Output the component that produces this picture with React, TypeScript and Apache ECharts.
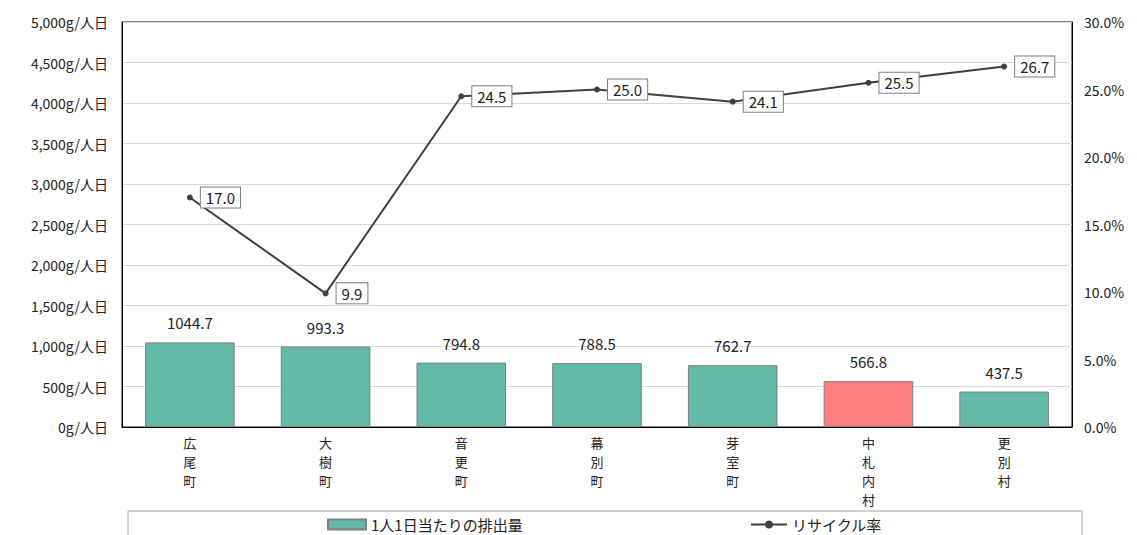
import React, { useEffect, useRef } from "react";
import * as echarts from "echarts";

const categories = ["広尾町", "大樹町", "音更町", "幕別町", "芽室町", "中札内村", "更別村"];
const perCapita = [1044.7, 993.3, 794.8, 788.5, 762.7, 566.8, 437.5];
const recycleRate = [17.0, 9.9, 24.5, 25.0, 24.1, 25.5, 26.7];
const highlightIndex = 5;
const seriesNames = ["1人1日当たりの排出量", "リサイクル率"];

const FONT = "'Noto Sans CJK JP', 'Noto Sans', sans-serif";

export default function App() {
  const ref = useRef<HTMLDivElement>(null);
  useEffect(() => {
    if (!ref.current) return;
    const chart = echarts.init(ref.current, undefined, { renderer: "svg" });
    const legendText = { fontSize: 15, color: "#222", fontFamily: FONT };
    chart.setOption({
      animation: false,
      textStyle: { fontFamily: FONT },
      grid: {
        left: 122,
        right: 65,
        top: 22,
        bottom: 108,
        containLabel: false,
        show: true,
        borderColor: "#000",
        borderWidth: 1,
      },
      graphic: [
        {
          type: "rect",
          shape: { x: 128, y: 511, width: 954, height: 40 },
          style: { fill: "none", stroke: "#a6a6a6", lineWidth: 1 },
          silent: true,
        },
      ],
      legend: [
        {
          top: 512,
          left: 322,
          itemWidth: 38,
          itemHeight: 10,
          itemGap: 5,
          textStyle: legendText,
          data: [{ name: seriesNames[0], icon: "rect" }],
        },
        {
          top: 512,
          left: 745,
          itemWidth: 36,
          itemHeight: 10,
          textStyle: legendText,
          data: [{ name: seriesNames[1] }],
        },
      ],
      xAxis: {
        type: "category",
        data: categories,
        axisLine: { lineStyle: { color: "#000" } },
        axisTick: { show: false },
        axisLabel: {
          interval: 0,
          fontSize: 13,
          lineHeight: 19,
          color: "#222",
          margin: 6,
          formatter: (v: string) => v.split("").join("\n"),
        },
      },
      yAxis: [
        {
          type: "value",
          min: 0,
          max: 5000,
          interval: 500,
          axisLine: { show: true, lineStyle: { color: "#000" } },
          axisTick: { show: false },
          splitLine: { lineStyle: { color: "#d9d9d9" } },
          axisLabel: {
            fontSize: 14,
            color: "#222",
            margin: 14,
            formatter: (v: number) => v.toLocaleString("en-US") + "g/人日",
          },
        },
        {
          type: "value",
          min: 0,
          max: 30,
          interval: 5,
          axisLine: { show: true, lineStyle: { color: "#000" } },
          axisTick: { show: false },
          splitLine: { show: false },
          axisLabel: {
            fontSize: 14,
            color: "#222",
            margin: 12,
            formatter: (v: number) => v.toFixed(1) + "%",
          },
        },
      ],
      series: [
        {
          name: seriesNames[0],
          type: "bar",
          barWidth: "66%",
          itemStyle: { color: "#63baa8", borderColor: "#7f7f7f", borderWidth: 1 },
          data: perCapita.map((v, i) =>
            i === highlightIndex
              ? { value: v, itemStyle: { color: "#ff7f7f", borderColor: "#7f7f7f" } }
              : v
          ),
          label: {
            show: true,
            position: "top",
            distance: 12,
            fontSize: 15,
            color: "#222",
            formatter: (p: any) => p.value.toFixed(1),
          },
        },
        {
          name: seriesNames[1],
          type: "line",
          yAxisIndex: 1,
          symbol: "circle",
          symbolSize: 6,
          lineStyle: { color: "#404040", width: 2 },
          itemStyle: { color: "#404040" },
          data: recycleRate,
          label: {
            show: true,
            position: "right",
            distance: 8,
            fontSize: 15,
            color: "#222",
            backgroundColor: "#fff",
            borderColor: "#7f7f7f",
            borderWidth: 1,
            padding: [3, 5, 2, 5],
            formatter: (p: any) => p.value.toFixed(1),
          },
        },
      ],
    });
    return () => chart.dispose();
  }, []);
  return <div ref={ref} style={{ width: 1137, height: 535, position: "absolute", left: 0, top: 0 }} />;
}
